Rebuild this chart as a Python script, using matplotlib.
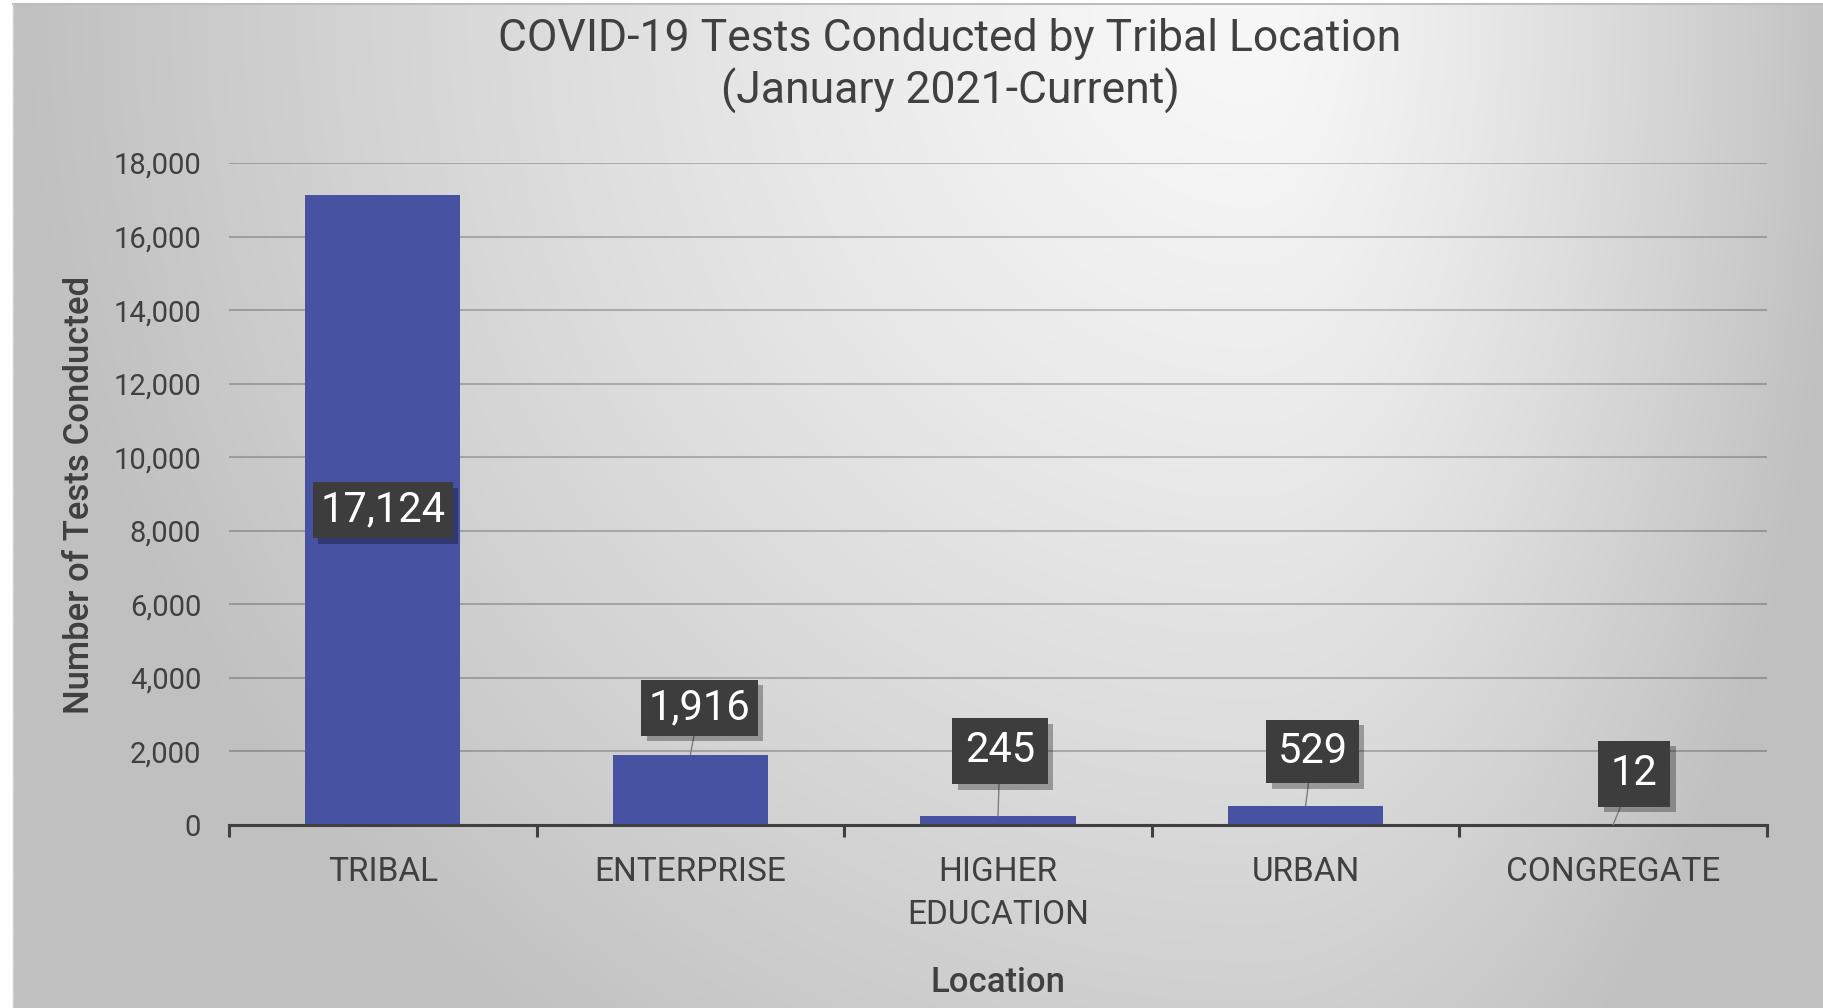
import numpy as np
import matplotlib
matplotlib.use("Agg")
import matplotlib.pyplot as plt
import matplotlib.patheffects as pe

# data
locations = ["TRIBAL", "ENTERPRISE", "HIGHER\nEDUCATION", "URBAN", "CONGREGATE"]
tests = [17124, 1916, 245, 529, 12]
yticks = [0, 2000, 4000, 6000, 8000, 10000, 12000, 14000, 16000, 18000]

title = "COVID-19 Tests Conducted by Tribal Location\n(January 2021-Current)"
ylabel = "Number of Tests Conducted"
xlabel = "Location"

plt.rcParams["font.family"] = ["Roboto", "DejaVu Sans"]

W, H = 1823, 1008
fig = plt.figure(figsize=(W / 100, H / 100), dpi=100)
fig.patch.set_facecolor("white")

# background gradient (light at top, grey towards edges)
bg = fig.add_axes([13 / W, 0, 1 - 13 / W, 1 - 4 / H])
bg.set_axis_off()
gy, gx = np.mgrid[0:250, 0:450]
px = gx / 449 * W
py = gy / 249 * H
cx = 1250
dx = np.where(px < cx, (cx - px) / 1250, (px - cx) / 600)
dy = py / 1300
d = np.clip(np.sqrt(dx ** 2 + dy ** 2), 0, 1) ** 1.3
val = (248 - (248 - 192) * d) / 255
bg.imshow(np.dstack([val, val, val]), aspect="auto", interpolation="bilinear",
          extent=[0, 1, 0, 1])
bg.set_xlim(0, 1)
bg.set_ylim(0, 1)
fig.add_artist(plt.Line2D([13 / W, 1], [1 - 3.5 / H, 1 - 3.5 / H],
                          color="#bdbdbd", lw=1.5))
fig.add_artist(plt.Line2D([13 / W, 13 / W], [0, 1 - 3.5 / H],
                          color="#d0d0d0", lw=1.0))

ax = fig.add_axes([229 / W, 1 - 825 / H, (1767 - 229) / W, (825 - 163) / H])
ax.patch.set_alpha(0)
x = np.arange(len(locations))

bars = ax.bar(x, tests, width=0.505, color="#4752a2", zorder=3, linewidth=0)
for b in bars:
    b.set_path_effects([pe.SimplePatchShadow(offset=(0, 0), shadow_rgbFace="black",
                                             alpha=0.06), pe.Normal()])

ax.set_xlim(-0.5, len(locations) - 0.5)
ax.set_ylim(0, 18000)
ax.set_yticks(yticks)
ax.set_yticklabels([f"{v:,}" for v in yticks])
ax.yaxis.grid(True, color="black", alpha=0.22, lw=1.5, zorder=0)
ax.set_axisbelow(True)
ax.tick_params(axis="y", length=0, pad=20, labelsize=21, labelcolor="#404040")

ax.set_xticks(np.arange(-0.5, len(locations), 1.0))
ax.set_xticklabels([])
ax.set_xticks(x, minor=True)
ax.set_xticklabels(locations, minor=True, linespacing=1.45)
ax.tick_params(axis="x", which="major", direction="out", length=8.5, width=2.2,
               color="#404040")
ax.tick_params(axis="x", which="minor", length=0, pad=22, labelsize=24,
               labelcolor="#404040")

for s in ["top", "right", "left"]:
    ax.spines[s].set_visible(False)
ax.spines["bottom"].set_color("#404040")
ax.spines["bottom"].set_linewidth(2.2)
ax.spines["bottom"].set_zorder(4)

fig.text(950 / W, 1 - 66 / H, title, ha="center", va="center", fontsize=32,
         color="#404040", linespacing=1.25)
fig.text(80 / W, 1 - 495 / H, ylabel, rotation=90, ha="center", va="center",
         fontsize=25, color="#404040", fontweight="medium")
fig.text(998 / W, 1 - 982 / H, xlabel, ha="center", va="center",
         fontsize=25, color="#404040", fontweight="medium")

# data labels: (dx, dy) offset of the box centre from the bar top, in pixels
offsets = [None, (9, 47), (2, 65), (7, 54), (21, 51)]
pads = [0.18, 0.18, 0.3, 0.27, 0.3]
shadow = [pe.SimplePatchShadow(offset=(4, -4), shadow_rgbFace="black", alpha=0.3),
          pe.Normal()]
for i, v in enumerate(tests):
    lab = f"{v:,}"
    box = dict(boxstyle=f"square,pad={pads[i]}", fc="#3d3d3d", ec="none")
    if offsets[i] is None:
        t = ax.annotate(lab, (i, v / 2), ha="center", va="center", fontsize=30,
                        color="white", bbox=box, zorder=6)
    else:
        dxo, dyo = offsets[i]
        t = ax.annotate(lab, (i, v), xytext=(dxo, dyo), textcoords="offset pixels",
                        ha="center", va="center", fontsize=30, color="white",
                        bbox=box, zorder=6,
                        arrowprops=dict(arrowstyle="-", color="#7f7f7f", lw=1,
                                        shrinkA=0, shrinkB=0))
    t.get_bbox_patch().set_path_effects(shadow)

fig.savefig("out.png", dpi=100)
